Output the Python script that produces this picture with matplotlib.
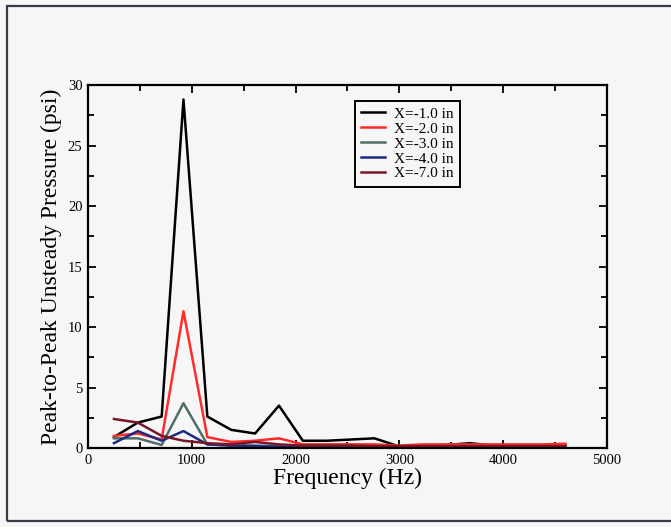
import numpy as np
import matplotlib
matplotlib.use("Agg")
import matplotlib.pyplot as plt
from matplotlib.patches import Rectangle
from matplotlib.ticker import MultipleLocator

# frequenze (Hz) e ampiezze picco-picco (psi)
freq = [250, 480, 710, 920, 1150, 1380, 1610, 1840, 2070, 2300,
        2530, 2760, 2990, 3220, 3450, 3680, 3910, 4140, 4370, 4600]
p_x1 = [0.9, 2.1, 2.6, 28.8, 2.6, 1.5, 1.2, 3.5, 0.6, 0.6,
        0.7, 0.8, 0.15, 0.2, 0.25, 0.4, 0.2, 0.2, 0.2, 0.2]
p_x2 = [1.0, 1.2, 0.7, 11.3, 0.9, 0.5, 0.6, 0.8, 0.3, 0.3,
        0.3, 0.3, 0.2, 0.3, 0.3, 0.3, 0.3, 0.3, 0.3, 0.35]
p_x3 = [0.8, 0.8, 0.25, 3.7, 0.3, 0.2, 0.2, 0.15, 0.1, 0.1,
        0.1, 0.1, 0.1, 0.1, 0.1, 0.1, 0.1, 0.1, 0.1, 0.1]
p_x4 = [0.4, 1.4, 0.6, 1.4, 0.3, 0.2, 0.15, 0.1, 0.1, 0.1,
        0.1, 0.1, 0.1, 0.1, 0.1, 0.1, 0.1, 0.1, 0.1, 0.1]
p_x7 = [2.4, 2.1, 1.0, 0.6, 0.4, 0.3, 0.5, 0.3, 0.2, 0.2,
        0.2, 0.15, 0.15, 0.15, 0.15, 0.15, 0.15, 0.15, 0.15, 0.15]

labels = ["X=-1.0 in", "X=-2.0 in", "X=-3.0 in", "X=-4.0 in", "X=-7.0 in"]
colori = ["#000000", "#ff2a2a", "#4f6e68", "#1c2a80", "#7a1628"]

plt.rcParams['font.family'] = ['Liberation Serif', 'DejaVu Serif']
bg = "#f6f6f6"

fig = plt.figure(figsize=(6.71, 5.27), dpi=100, facecolor=bg)
ax = fig.add_axes([0.1311, 0.1499, 0.7735, 0.6888], facecolor=bg)

serie = [p_x1, p_x2, p_x3, p_x4, p_x7]
for y, lab, col in zip(serie, labels, colori):
    ax.plot(freq, y, color=col, lw=1.8, label=lab)

ax.set_xlim(0, 5000)
ax.set_ylim(0, 30)
ax.xaxis.set_major_locator(MultipleLocator(1000))
ax.xaxis.set_minor_locator(MultipleLocator(500))
ax.yaxis.set_major_locator(MultipleLocator(5))
ax.yaxis.set_minor_locator(MultipleLocator(2.5))
ax.tick_params(which='both', direction='in', top=True, right=True,
               width=1.3, labelsize=10.5, pad=4)
ax.tick_params(which='major', length=6)
ax.tick_params(which='minor', length=4)
for s in ax.spines.values():
    s.set_linewidth(1.6)

ax.set_xlabel("Frequency (Hz)", fontsize=17, labelpad=1)
ax.set_ylabel("Peak-to-Peak Unsteady Pressure (psi)", fontsize=17, labelpad=4)

leg = ax.legend(loc='upper left', bbox_to_anchor=(0.514, 0.956), fontsize=11,
                handlelength=1.6, labelspacing=0.08, borderpad=0.4,
                handletextpad=0.6, fancybox=False, framealpha=1,
                borderaxespad=0)
leg.get_frame().set_edgecolor('black')
leg.get_frame().set_linewidth(1.4)
leg.get_frame().set_facecolor(bg)

# cornice esterna della pagina scansionata
fig.patches.append(Rectangle((0.0104, 0.0114), 1.1, 0.9772, transform=fig.transFigure,
                             fill=False, edgecolor='#3a3a48', linewidth=1.6))

plt.savefig("out.png", dpi=100, facecolor=bg)
